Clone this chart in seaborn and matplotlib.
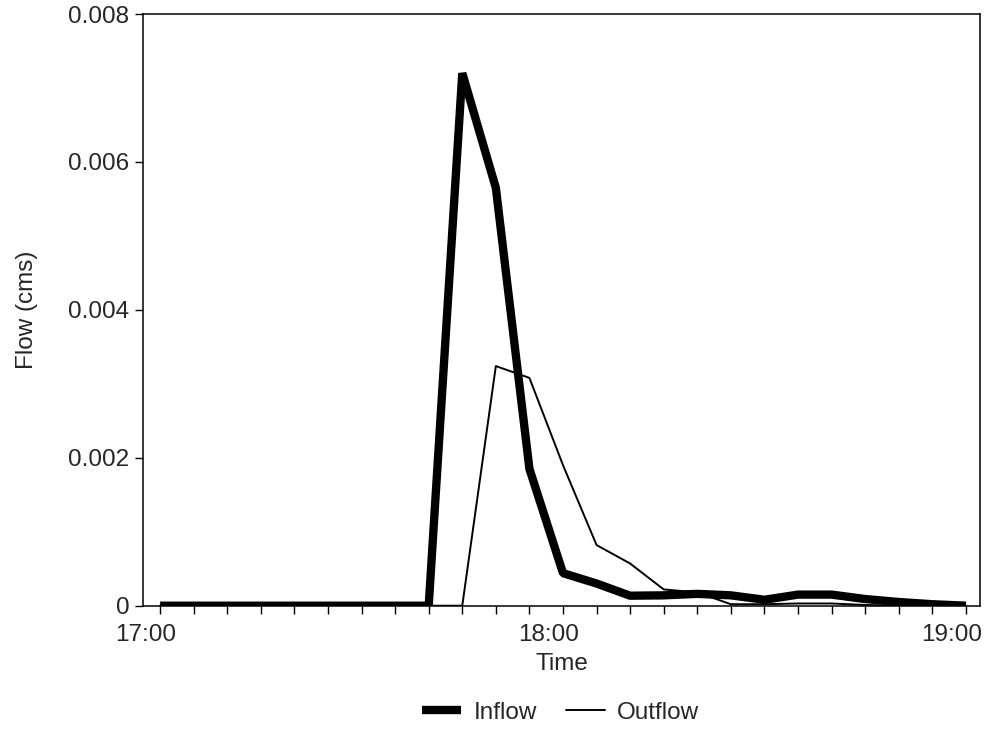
import numpy as np
import pandas as pd
import seaborn as sns
import matplotlib
matplotlib.use("Agg")
import matplotlib.pyplot as plt
from matplotlib.transforms import ScaledTranslation

# minutes after 17:00, 5 minute steps
minutes = list(range(0, 125, 5))

inflow = [0, 0, 0, 0, 0, 0, 0, 0, 0,
          0.0072, 0.00565, 0.00185, 0.00044, 0.00030, 0.000135, 0.00014,
          0.00016, 0.00014, 0.00008, 0.00015, 0.00015, 0.00009, 0.00005,
          0.00002, 0.0]

outflow = [0, 0, 0, 0, 0, 0, 0, 0, 0, 0,
           0.00324, 0.00308, 0.0019, 0.00082, 0.00057, 0.00022, 0.00018,
           0.00002, 0.00002, 0.00003, 0.00003, 0.00001, 0.0, 0.0, 0.0]

tick_pos = [0, 60, 120]
tick_labels = ["17:00", "18:00", "19:00"]
y_ticks = [0, 0.002, 0.004, 0.006, 0.008]

df = pd.DataFrame({"minute": minutes, "Inflow": inflow, "Outflow": outflow})

sns.set_style("ticks")
plt.rcParams["font.family"] = ["Liberation Sans", "DejaVu Sans"]

fig = plt.figure(figsize=(9.87, 7.34), dpi=100)
ax = fig.add_axes([0.1452, 0.1748, 0.8477, 0.8061])

sns.lineplot(data=df, x="minute", y="Inflow", ax=ax, color="black",
             linewidth=6.0, label="Inflow", solid_joinstyle="bevel",
             solid_capstyle="butt")
sns.lineplot(data=df, x="minute", y="Outflow", ax=ax, color="black",
             linewidth=1.4, label="Outflow")

ax.set_xlim(-2.5, 122.1)
ax.set_ylim(0, 0.008)
ax.set_xticks(tick_pos)
ax.set_xticklabels(tick_labels)
ax.set_xticks(minutes, minor=True)
ax.set_yticks(y_ticks)
ax.set_yticklabels(["0" if v == 0 else f"{v:.3f}" for v in y_ticks])

ax.tick_params(axis="both", which="both", direction="out", length=6,
               width=1, color="black", labelsize=17.5, pad=4)
ax.tick_params(axis="x", which="major", pad=7)
for lab in ax.get_xticklabels():
    lab.set_transform(lab.get_transform() + ScaledTranslation(-0.14, 0, fig.dpi_scale_trans))

for sp in ax.spines.values():
    sp.set_visible(True)
    sp.set_color("black")
    sp.set_linewidth(1.1)

ax.set_xlabel("Time", fontsize=17.5, labelpad=5)
ax.set_ylabel("Flow (cms)", fontsize=17.5, labelpad=22)

ax.get_legend().remove()
handles, labels = ax.get_legend_handles_labels()
fig.legend(handles, labels, loc="center", bbox_to_anchor=(0.568, 0.029),
           ncol=2, frameon=False, fontsize=17.5, handlelength=1.6,
           columnspacing=1.2, handletextpad=0.5)

fig.savefig("out.png", dpi=100)
